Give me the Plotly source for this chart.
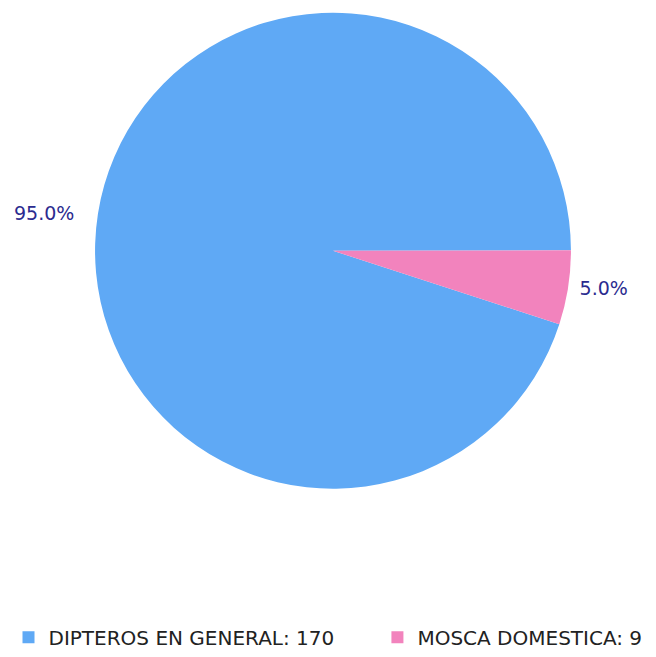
import plotly.graph_objects as go

names = ["DIPTEROS EN GENERAL", "MOSCA DOMESTICA"]
values = [170, 9]
colors = ["#5fa9f5", "#f283bd"]

NB = "\u00a0"
labels = [f"{n}: {v}" for n, v in zip(names, values)]
legend_pad = [NB * 6, ""]
labels = [l + p for l, p in zip(labels, legend_pad)]

W, H = 656, 657
cx, cy, r = 333, 255, 242

fig = go.Figure(go.Pie(
    labels=labels,
    values=values,
    sort=False,
    direction="clockwise",
    rotation=108,
    marker=dict(colors=colors, line=dict(width=0)),
    textposition="outside",
    texttemplate=["%{percent:.1%}" + NB * 3, NB + "%{percent:.1%}"],
    textfont=dict(family="DejaVu Sans", size=19, color="#2b2b8f"),
    automargin=False,
    domain=dict(x=[(cx - r) / W, (cx + r) / W], y=[(H - cy - r) / H, (H - cy + r) / H]),
    hoverinfo="label+percent",
))

fig.update_layout(
    width=W, height=H,
    margin=dict(l=0, r=0, t=0, b=0),
    paper_bgcolor="white",
    showlegend=True,
    legend=dict(
        orientation="h",
        x=0.5, xanchor="center",
        y=(H - 648) / H, yanchor="middle",
        font=dict(family="DejaVu Sans", size=20, color="#222222"),
        itemsizing="constant",
    ),
)

fig.write_html("out.html")
